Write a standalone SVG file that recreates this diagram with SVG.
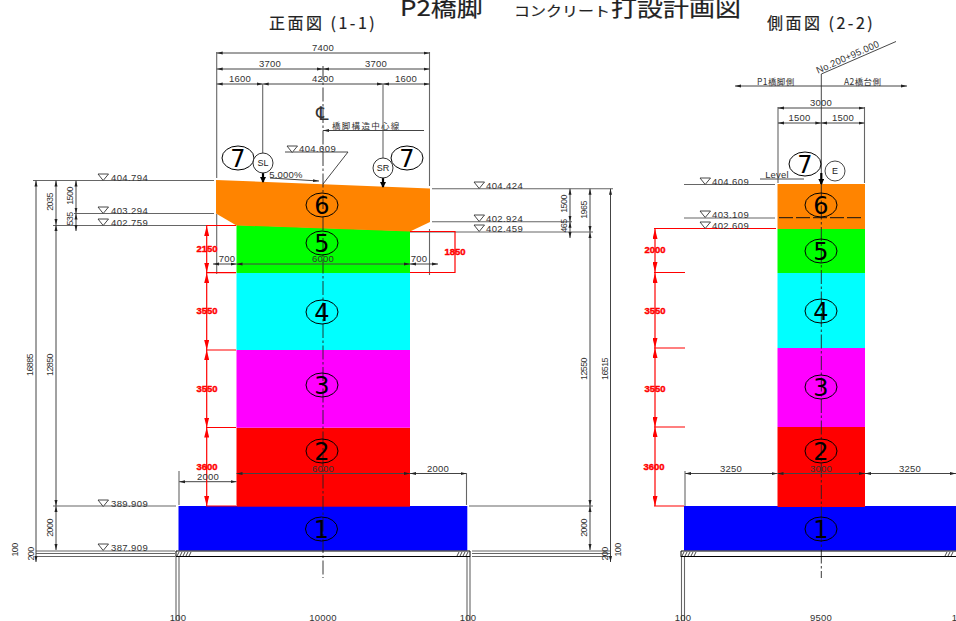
<svg xmlns="http://www.w3.org/2000/svg" width="956" height="621" viewBox="0 0 956 621">
<defs>
<style>
text{font-family:"Liberation Sans","Noto Sans CJK JP",sans-serif}
.t{font-size:9.500px;fill:#333;text-anchor:middle;letter-spacing:.2px}
.v{font-size:9px;fill:#333;text-anchor:middle;letter-spacing:-.6px}
.e{font-size:9.500px;fill:#333;letter-spacing:.4px}
.j{font-size:8.500px;fill:#333;font-family:"Noto Sans CJK JP",sans-serif}
.r{font-size:9.500px;fill:#f00;stroke:#f00;stroke-width:.4;font-weight:bold;text-anchor:middle}
.n{font-size:24px;fill:#000;text-anchor:middle;font-family:"DejaVu Sans",sans-serif}
.h{font-family:"Noto Sans CJK JP",sans-serif;fill:#222;stroke:#222;stroke-width:.2}
.l{stroke:#333;stroke-width:.9;fill:none}
.g{stroke:#666;stroke-width:1.100;fill:none}
.a{stroke:#444;stroke-width:1;fill:none;marker-start:url(#ta);marker-end:url(#ta)}
.b{stroke:#444;stroke-width:1;fill:none;marker-end:url(#ta)}
.q{stroke:#f00;stroke-width:1.200;fill:none}
.w{stroke:#f00;stroke-width:1.200;fill:none;marker-start:url(#ra);marker-end:url(#ra)}
.c{stroke:#000;stroke-width:1;fill:none}
.k{stroke:#333;stroke-width:1;fill:#fff}
.x{stroke:#222;stroke-width:.9;fill:none;stroke-dasharray:14 2.500 2.500 2.500}
.f{stroke:#000;stroke-width:1;fill:none}
.p{fill:#fff;stroke:#333;stroke-width:.9}
.y{stroke:#000;stroke-width:2.200;marker-end:url(#ha);fill:none}
.s{font-size:9px;fill:#222;text-anchor:middle}
</style>
<marker id="ta" markerUnits="userSpaceOnUse" markerWidth="6" markerHeight="4" viewBox="0 0 6 4" refX="6" refY="2" orient="auto-start-reverse"><path d="M0,.5L6,2L0,3.500Z" fill="#222"/></marker>
<marker id="ra" markerUnits="userSpaceOnUse" markerWidth="10" markerHeight="5" viewBox="0 0 10 5" refX="10" refY="2.500" orient="auto-start-reverse"><path d="M0,0L10,2.500L0,5Z" fill="#f00"/></marker>
<marker id="ha" markerUnits="userSpaceOnUse" markerWidth="6" markerHeight="6" viewBox="0 0 6 6" refX="5" refY="3" orient="auto"><path d="M0,0L6,3L0,6Z" fill="#000"/></marker>
<path id="tri" d="M0,0H10.500L5.200,6.500Z" class="p"/>
</defs>
<rect width="956" height="621" fill="#fff"/>

<g id="titles">
<text class="h" transform="translate(400,16) scale(1,.85)" font-size="26">P2橋脚</text>
<text class="h" transform="translate(514,16) scale(1,.85)" font-size="16">コンクリート</text>
<text class="h" transform="translate(611,16) scale(1,.85)" font-size="26">打設計画図</text>
<text class="h" x="269" y="29" font-size="16" letter-spacing="2.500">正面図 (1-1)</text>
<text class="h" x="767" y="29" font-size="16" letter-spacing="2.500">側面図 (2-2)</text>
</g>

<g id="front-pour-lifts">
<rect id="f1" x="178.500" y="506" width="288.800" height="44.500" fill="#00f"/>
<rect id="f2" x="236.500" y="427.700" width="173.500" height="79" fill="#f00"/>
<rect id="f3" x="236.500" y="350" width="173.500" height="77.700" fill="#f0f"/>
<rect id="f4" x="236.500" y="273" width="173.500" height="77" fill="#0ff"/>
<path id="f5" d="M236.500,225L410,231V273H236.500Z" fill="#0f0"/>
<path id="f6" d="M216,180L430,188.500V222L410,231.500L236.500,225.500L216,213.500Z" fill="#ff8400"/>
</g>
<g id="side-pour-lifts">
<rect id="s1" x="684" y="506" width="272" height="44.500" fill="#00f"/>
<rect id="s2" x="777.500" y="427" width="87.500" height="80" fill="#f00"/>
<rect id="s3" x="777.500" y="348" width="87.500" height="79" fill="#f0f"/>
<rect id="s4" x="777.500" y="273" width="87.500" height="75" fill="#0ff"/>
<rect id="s5" x="777.500" y="229" width="87.500" height="44" fill="#0f0"/>
<rect id="s6" x="777.500" y="184" width="87.500" height="45" fill="#ff8400"/>
</g>

<g id="connectors">
<path class="g" d="M216.700,52V178M216.700,214V274M429.500,52V186M429.500,229V275"/>
<path class="a" d="M216.700,53H429.500"/>
<path class="a" d="M216.700,69H323"/>
<path class="a" d="M323,69H429.500"/>
<path class="a" d="M216.700,84H262.700"/>
<path class="a" d="M262.700,84H383"/>
<path class="a" d="M383,84H429.500"/>
<path class="g" d="M262.700,84V163M383,84V158"/>
<path class="x" d="M323,66V578"/>
<path class="b" d="M424,130.500H323"/>
<path class="l" d="M285,152H348L323,184"/>
<path class="b" d="M270,178L319,181"/>
<path class="y" d="M263,172V182"/>
<path class="y" d="M383,177V187"/>

<path class="g" d="M33,180.500H214M74,213.500H214M53,225.500H206M53,506H176"/>
<path class="g" d="M36,551H175M36,553.500H175M36,556.500H175"/>
<path class="a" d="M36,180.500V562"/>
<path class="a" d="M56,180.500V225"/>
<path class="a" d="M56,225V506"/>
<path class="a" d="M56,506V550"/>
<path class="a" d="M76,180.500V213.500"/>
<path class="a" d="M76,213.500V231"/>

<path class="g" d="M432,188.700H613M432,221.700H572M410,232H593M469,506H593"/>
<path class="g" d="M472,551H610M472,553.500H610M472,556.500H610"/>
<path class="a" d="M570,188.700V221.700"/>
<path class="a" d="M570,221.700V238"/>
<path class="a" d="M590,188.700V232"/>
<path class="a" d="M590,232V506"/>
<path class="a" d="M590,506V550"/>
<path class="a" d="M610.500,188.700V562"/>

<path class="a" d="M213,264H236.500"/>
<path class="a" d="M236.500,264H410"/>
<path class="a" d="M410,264H438"/>
<path class="a" d="M179,481.700H236.500"/>
<path class="a" d="M236.500,473.500H410"/>
<path class="a" d="M410,473.500H466.500"/>
<path class="g" d="M179,471V505M466.500,473V505"/>

<path class="q" d="M206,225.500H236M206,272.700H236M206,350H236M206,427.500H236M206,506H236"/>
<path class="w" d="M206.700,226V272.500"/>
<path class="w" d="M206.700,273V350"/>
<path class="w" d="M206.700,350V427.500"/>
<path class="w" d="M206.700,427.500V506"/>
<path class="q" d="M410,231.500H455V272.500H410"/>

<path class="f" d="M176,551H470M176,556.500H470M176,551V557M470,551V557"/>
<path class="l" d="M177,556L179,552M180,556L182,552M183,556L185,552M186,556L188,552M189,556L191,552M457,556L459,552M460,556L462,552M463,556L465,552M466,556L468,552"/>
<path class="g" d="M176,557V621M179,557V621M467,557V621M470,557V621"/>

<path class="l" d="M821.300,74L896,41.500"/>
<path class="a" d="M735,86H907"/>
<path class="g" d="M778,107V183M864.500,107V183"/>
<path class="a" d="M778,108H864.500"/>
<path class="a" d="M778,123H821.300"/>
<path class="a" d="M821.300,123H864.500"/>
<path class="l" d="M821.300,74V184"/>
<path class="x" d="M821.300,184V578"/>
<path class="y" d="M821.300,173V184"/>
<path class="l" d="M760,179H804"/>

<path class="g" d="M684,184.500H775M684,218H775"/>
<path stroke="#111" stroke-width="1" fill="none" stroke-dasharray="14 3" d="M779,217.700H864"/>
<path class="q" d="M654,228.500H776M654,272.500H685M654,348H685M654,427H685M654,506H684"/>
<path class="w" d="M655,229V272"/>
<path class="w" d="M655,273V348"/>
<path class="w" d="M655,348V427"/>
<path class="w" d="M655,427V506"/>

<path class="a" d="M685,473.500H777.500"/>
<path class="a" d="M777.500,473.500H865"/>
<path class="a" d="M865,473.500H956"/>
<path class="g" d="M685,471V506"/>

<path class="f" d="M681,551H956M681,556.500H956M681,551V557"/>
<path class="l" d="M682,556L684,552M685,556L687,552M688,556L690,552M691,556L693,552M694,556L696,552M945,556L947,552M948,556L950,552M951,556L953,552"/>
<path class="g" d="M681.500,557V621M684.500,557V621"/>
</g>

<g id="front-labels">
<text class="t" x="323" y="51">7400</text>
<text class="t" x="270" y="67">3700</text>
<text class="t" x="376" y="67">3700</text>
<text class="t" x="240" y="82">1600</text>
<text class="t" x="323" y="82">4200</text>
<text class="t" x="406" y="82">1600</text>
<text x="322" y="120" font-size="19" text-anchor="middle" fill="#333" style="font-family:'DejaVu Sans',sans-serif">℄</text>
<text class="j" x="332" y="129" letter-spacing="1.300">橋脚構造中心線</text>
<use href="#tri" x="287" y="146"/>
<text class="e" x="299" y="152">404.609</text>
<text class="t" x="286" y="178">5.000%</text>
<use href="#tri" x="98" y="174"/><text class="e" x="111" y="181">404.794</text>
<use href="#tri" x="98" y="207"/><text class="e" x="111" y="214">403.294</text>
<use href="#tri" x="98" y="219"/><text class="e" x="111" y="226">402.759</text>
<use href="#tri" x="98" y="500"/><text class="e" x="111" y="507">389.909</text>
<use href="#tri" x="98" y="544"/><text class="e" x="111" y="551">387.909</text>
<use href="#tri" x="474" y="182"/><text class="e" x="486" y="189">404.424</text>
<use href="#tri" x="474" y="215"/><text class="e" x="486" y="222">402.924</text>
<use href="#tri" x="474" y="225"/><text class="e" x="486" y="232">402.459</text>
<text class="v" transform="translate(33,365) rotate(-90)">16885</text>
<text class="v" transform="translate(52.500,202) rotate(-90)">2035</text>
<text class="v" transform="translate(52.500,365) rotate(-90)">12850</text>
<text class="v" transform="translate(73,196) rotate(-90)">1500</text>
<text class="v" transform="translate(73,219) rotate(-90)">535</text>
<text class="v" transform="translate(52.500,528) rotate(-90)">2000</text>
<text class="v" transform="translate(17.500,550) rotate(-90)">100</text>
<text class="v" transform="translate(33.500,554) rotate(-90)">200</text>
<text class="v" transform="translate(566.500,204) rotate(-90)">1500</text>
<text class="v" transform="translate(567,226) rotate(-90)">465</text>
<text class="v" transform="translate(586.500,210) rotate(-90)">1965</text>
<text class="v" transform="translate(586.500,369) rotate(-90)">12550</text>
<text class="v" transform="translate(607.500,369) rotate(-90)">16515</text>
<text class="v" transform="translate(587,528) rotate(-90)">2000</text>
<text class="v" transform="translate(607.500,554) rotate(-90)">200</text>
<text class="v" transform="translate(621,550) rotate(-90)">100</text>
<text class="t" x="227" y="262">700</text>
<text class="t" x="323" y="262">6000</text>
<text class="t" x="419" y="262">700</text>
<text class="t" x="323" y="472">6000</text>
<text class="t" x="208" y="480">2000</text>
<text class="t" x="438" y="472">2000</text>
<text class="t" x="178" y="620.500">100</text>
<text class="t" x="323" y="620.500">10000</text>
<text class="t" x="468" y="620.500">100</text>
<text class="r" x="207" y="252">2150</text>
<text class="r" x="207" y="314">3550</text>
<text class="r" x="207" y="392">3550</text>
<text class="r" x="207" y="470">3600</text>
<text class="r" x="455" y="255">1850</text>
</g>

<g id="side-labels">
<text class="j" x="757" y="85" letter-spacing=".4">P1橋脚側</text>
<text class="j" x="844" y="85" letter-spacing=".4">A2橋台側</text>
<text class="t" transform="translate(849,60) rotate(-24)">No.200+95.000</text>
<text class="t" x="821" y="106">3000</text>
<text class="t" x="799.500" y="121">1500</text>
<text class="t" x="843" y="121">1500</text>
<text class="t" x="777" y="178">Level</text>
<use href="#tri" x="700" y="178"/><text class="e" x="712" y="185">404.609</text>
<use href="#tri" x="700" y="211"/><text class="e" x="712" y="218">403.109</text>
<use href="#tri" x="700" y="222"/><text class="e" x="712" y="229">402.609</text>
<text class="t" x="731" y="471.500">3250</text>
<text class="t" x="821" y="471.500">3000</text>
<text class="t" x="910" y="471.500">3250</text>
<text class="t" x="683" y="620.500">100</text>
<text class="t" x="821" y="620.500">9500</text>
<text class="t" x="960" y="620.500">100</text>
<text class="r" x="655" y="253">2000</text>
<text class="r" x="655" y="314">3550</text>
<text class="r" x="655" y="392">3550</text>
<text class="r" x="654" y="470">3600</text>
</g>

<g id="front-markers">
<g id="fm1"><ellipse class="c" cx="321.500" cy="529" rx="16" ry="12"/><text class="n" x="321.500" y="537.500">1</text></g>
<g id="fm2"><ellipse class="c" cx="322" cy="451" rx="16" ry="12"/><text class="n" x="322" y="459.500">2</text></g>
<g id="fm3"><ellipse class="c" cx="322" cy="385" rx="16" ry="12"/><text class="n" x="322" y="393.500">3</text></g>
<g id="fm4"><ellipse class="c" cx="322" cy="312" rx="16" ry="12"/><text class="n" x="322" y="320.500">4</text></g>
<g id="fm5"><ellipse class="c" cx="322" cy="243" rx="16" ry="12"/><text class="n" x="322" y="251.500">5</text></g>
<g id="fm6"><ellipse class="c" cx="322" cy="205" rx="16" ry="12"/><text class="n" x="322" y="213.500">6</text></g>
<g id="fm7l"><ellipse class="c" cx="238" cy="158" rx="16" ry="12"/><text class="n" x="238" y="166.500">7</text></g>
<g id="fm7r"><ellipse class="c" cx="407" cy="158" rx="16" ry="12"/><text class="n" x="407" y="166.500">7</text></g>
<g id="fsl"><circle class="k" cx="263" cy="163" r="10"/><text class="s" x="263" y="166">SL</text></g>
<g id="fsr"><circle class="k" cx="383" cy="168" r="10"/><text class="s" x="383" y="171">SR</text></g>
</g>

<g id="side-markers">
<g id="sm1"><ellipse class="c" cx="821" cy="529" rx="16" ry="12"/><text class="n" x="821" y="537.500">1</text></g>
<g id="sm2"><ellipse class="c" cx="821" cy="451" rx="16" ry="12"/><text class="n" x="821" y="459.500">2</text></g>
<g id="sm3"><ellipse class="c" cx="821" cy="387" rx="16" ry="12"/><text class="n" x="821" y="395.500">3</text></g>
<g id="sm4"><ellipse class="c" cx="821" cy="311" rx="16" ry="12"/><text class="n" x="821" y="319.500">4</text></g>
<g id="sm5"><ellipse class="c" cx="821" cy="251" rx="16" ry="12"/><text class="n" x="821" y="259.500">5</text></g>
<g id="sm6"><ellipse class="c" cx="821" cy="205" rx="16" ry="12"/><text class="n" x="821" y="213.500">6</text></g>
<g id="sm7"><ellipse class="c" cx="805" cy="164" rx="16" ry="12"/><text class="n" x="805" y="172.500">7</text></g>
<g id="se"><circle fill="none" stroke="#333" stroke-width=".9" cx="835" cy="171" r="10"/><text class="s" x="835" y="174">E</text></g>
</g>
</svg>
